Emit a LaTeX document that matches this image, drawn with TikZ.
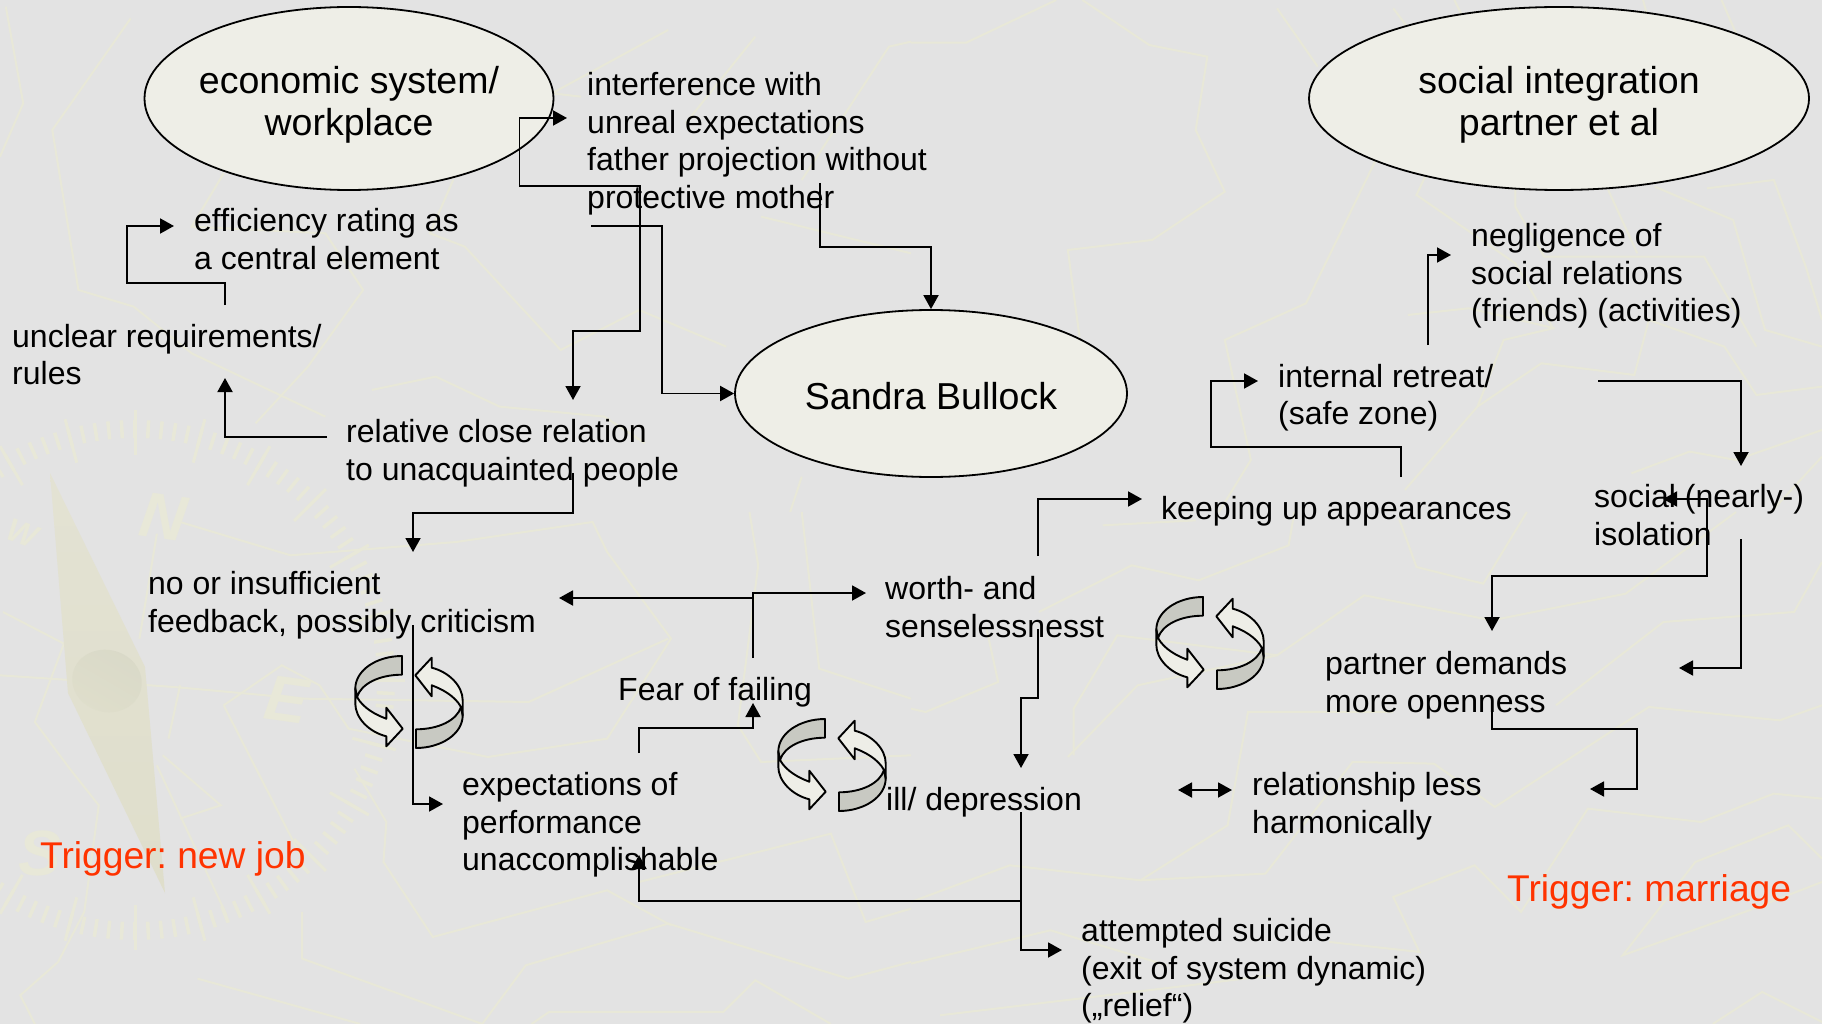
\documentclass[tikz,border=0pt]{standalone}
\usepackage{fontspec}
\setmainfont{Liberation Sans}
\frenchspacing
\usetikzlibrary{shapes.geometric, arrows.meta}
\definecolor{slide}{HTML}{E3E3E3}
\definecolor{faint}{HTML}{E8E8D8}
\definecolor{needletop}{HTML}{E3E2D3}
\definecolor{needlelow}{HTML}{DFDECB}
\definecolor{needleshade}{HTML}{D9D9C8}
\definecolor{oval}{HTML}{EEEEE7}
\definecolor{band}{HTML}{C8C9C2}
\definecolor{trigger}{HTML}{FF3300}
\newcommand{\topgap}[1]{\rule{0pt}{#1pt}}
\tikzstyle{topic} = [ellipse, inner sep=-14pt, draw=black, line width=1.8pt, fill=oval, align=center, font=\fontsize{37.5}{42}\selectfont]
\tikzstyle{textbox} = [anchor=north west, xshift=-1pt, inner sep=0pt, align=left, font=\fontsize{32}{37.6}\selectfont]
\tikzstyle{triggerbox} = [anchor=base west, inner sep=0pt, text=trigger, font=\fontsize{37.2}{42}\selectfont]
\tikzstyle{arrow} = [line width=1.9pt, -{Triangle[length=14pt,width=15pt]}]
\tikzstyle{both} = [line width=1.9pt, {Triangle[length=14pt,width=15pt]}-{Triangle[length=14pt,width=15pt]}]
\tikzstyle{line} = [line width=1.9pt]
\tikzstyle{trace} = [draw=faint, line width=2pt]
\tikzstyle{compassletter} = [text=faint, font=\fontsize{64}{64}\selectfont\bfseries\itshape]
\tikzset{
  topleft/.style={x=0.581pt, y=-0.3333pt},
  topright/.style={shift={(911,0)}, x=0.581pt, y=-0.3333pt},
  lowleft/.style={shift={(0,512)}, x=0.581pt, y=-0.3333pt},
  lowright/.style={shift={(911,512)}, x=0.581pt, y=-0.3333pt},
  pics/cycle/.style={code={
    \draw [line, fill=band, line join=round] (-7,-46) .. controls (-32,-46) and (-53.7,-32) .. (-53.7,-13.3) -- (-52,-5) .. controls (-48,-18) and (-30,-27.3) .. (-7,-27.3) -- cycle;
    \draw [line, fill=oval, line join=round] (-52,-5) .. controls (-46,6) and (-33,13) .. (-22.7,16.7) -- (-22.7,5.7) -- (-6.3,26.7) -- (-22.7,44.3) -- (-22.7,34.3) .. controls (-40,30) and (-53.7,16) .. (-53.7,1.7) -- (-53.7,-13.3) -- cycle;
    \begin{scope}[rotate=180]
      \draw [line, fill=band, line join=round] (-7,-46) .. controls (-32,-46) and (-53.7,-32) .. (-53.7,-13.3) -- (-52,-5) .. controls (-48,-18) and (-30,-27.3) .. (-7,-27.3) -- cycle;
      \draw [line, fill=oval, line join=round] (-52,-5) .. controls (-46,6) and (-33,13) .. (-22.7,16.7) -- (-22.7,5.7) -- (-6.3,26.7) -- (-22.7,44.3) -- (-22.7,34.3) .. controls (-40,30) and (-53.7,16) .. (-53.7,1.7) -- (-53.7,-13.3) -- cycle;
    \end{scope}
  }}
}
\begin{document}
\begin{tikzpicture}[x=1pt, y=-1pt]
	\useasboundingbox (0,0) rectangle (1822,1024);
	\fill [slide] (0,0) rectangle (1822,1024);

	% faint map behind everything
	\begin{scope}[topleft]
		\draw [trace] (10,20) -- (40,310) -- (0,470);
		\draw [trace] (225,55) -- (90,390) -- (135,870) -- (230,920) -- (330,1060) -- (560,1250);
		\draw [trace] (385,520) -- (330,680) -- (560,700) -- (625,870) -- (530,1100) -- (440,1270);
		\draw [trace] (780,540) -- (740,700) -- (800,740) -- (965,1050) -- (1100,930) -- (1250,1040);
		\draw [trace] (1150,90) -- (950,280) -- (1000,290);
		\draw [trace] (1300,110) -- (1180,370);
		\draw [trace] (1310,650) -- (1568,760);
		\draw [trace] (1568,125) -- (1530,140) -- (1380,540);
		\draw [trace] (640,1170) -- (750,1130) -- (860,1220) -- (1040,1250) -- (1110,1330);
		\draw [trace] (1380,1430) -- (1360,1536);
	\end{scope}
	\begin{scope}[topright]
		\draw [trace] (250,0) -- (95,128) -- (0,128);
		\draw [trace] (295,0) -- (410,135) -- (510,170) -- (490,390) -- (540,575) -- (415,720) -- (270,750) -- (290,1010);
		\draw [trace] (630,25) -- (700,200);
		\draw [trace] (800,480) -- (680,910) -- (540,1020) -- (585,1380) -- (530,1536);
		\draw [trace] (830,25) -- (880,140);
		\draw [trace] (885,530) -- (870,585) -- (1040,790) -- (1105,985) -- (1020,1020) -- (975,1220) -- (850,1470);
		\draw [trace] (1040,570) -- (1040,620) -- (1090,770) -- (1365,770) -- (1455,1040);
		\draw [trace] (1200,570) -- (1250,760);
		\draw [trace] (1280,560) -- (1415,660) -- (1470,990) -- (1568,1040);
		\draw [trace] (1370,565) -- (1485,540) -- (1540,800) -- (1568,960);
		\draw [trace] (935,0) -- (970,120);
		\draw [trace] (1260,0) -- (1280,130);
		\draw [trace] (1395,0) -- (1420,100);
		\draw [trace] (855,945) -- (960,925) -- (1108,985);
		\draw [trace] (975,1220) -- (1085,1090) -- (1245,1125) -- (1270,960) -- (1400,1040) -- (1455,1185) -- (1568,1160);
		\draw [trace] (1240,1420) -- (1340,1355) -- (1420,1380) -- (1568,1290);
		\draw [trace] (1480,1536) -- (1568,1370);
	\end{scope}
	\begin{scope}[lowleft]
		\draw [trace] (0,490) -- (300,525) -- (520,560) -- (910,570) -- (1150,380);
		\draw [trace] (385,580) -- (485,460) -- (550,520) -- (600,650) -- (840,735) -- (1045,680) -- (1155,380) -- (1045,120) -- (1020,30) -- (785,90) -- (500,130) -- (310,30);
		\draw [trace] (385,580) -- (520,1040);
		\draw [trace] (5,300) -- (110,395) -- (60,630) -- (120,770) -- (170,880) -- (145,1200) -- (100,1350) -- (35,1450) -- (60,1536);
		\draw [trace] (270,65) -- (240,380);
		\draw [trace] (310,520) -- (290,680);
		\draw [trace] (280,730) -- (380,880) -- (310,920);
		\draw [trace] (270,760) -- (390,1210);
		\draw [trace] (610,770) -- (665,930) -- (660,1050) -- (745,1275) -- (1045,1135) -- (1155,1240);
		\draw [trace] (520,1200) -- (520,1340) -- (830,1536) -- (905,1360) -- (1150,1235) -- (1460,1400) -- (1568,1350);
		\draw [trace] (340,1400) -- (620,1536);
		\draw [trace] (915,1536) -- (945,1500) -- (1245,1500) -- (1300,1405) -- (1430,1536);
		\draw [trace] (1100,1110) -- (1430,965) -- (1490,1230) -- (1568,1190);
		\draw [trace] (1290,0) -- (1305,160) -- (1270,640) -- (1310,750) -- (1568,730);
		\draw [trace] (1380,0) -- (1410,470) -- (1568,560);
	\end{scope}
	\begin{scope}[lowright]
		\draw [trace] (0,1170) -- (170,1060) -- (395,1105) -- (610,1085) -- (760,750) -- (900,755) -- (1005,885) -- (1270,585) -- (1495,625) -- (1568,580);
		\draw [trace] (0,1355) -- (240,1255) -- (440,1360);
		\draw [trace] (50,1510) -- (480,1420) -- (620,1390);
		\draw [trace] (220,300) -- (380,160) -- (495,205) -- (650,100) -- (660,0);
		\draw [trace] (280,730) -- (280,590) -- (355,370) -- (630,430) -- (780,250) -- (1000,325) -- (1230,245) -- (1420,0);
		\draw [trace] (270,735) -- (390,520) -- (630,430);
		\draw [trace] (0,590) -- (25,600) -- (150,510) -- (130,350);
		\draw [trace] (830,600) -- (580,600) -- (545,940) -- (395,1105);
		\draw [trace] (840,20) -- (870,165) -- (985,215) -- (1060,0);
		\draw [trace] (1110,580) -- (1295,330) -- (1520,300) -- (1568,150);
		\draw [trace] (1568,860) -- (1485,845) -- (1360,930) -- (1165,890) -- (1050,1200) -- (970,1060) -- (830,1155) -- (875,1320) -- (720,1290);
		\draw [trace] (1568,1110) -- (1435,1200) -- (1225,1330) -- (1350,1050) -- (1510,940) -- (1568,1040);
		\draw [trace] (1380,1536) -- (1465,1440) -- (1568,1530);
		\draw [trace] (330,40) -- (490,25);
	\end{scope}

	% compass ring and needle
	\foreach \a in {0,3,...,357}
		\draw [faint, line width=3.5pt] (135,680) ++(\a:242) -- ++(\a:18);
	\foreach \a in {0,15,...,345}
		\draw [faint, line width=3pt] (135,680) ++(\a:225) -- ++(\a:45);
	\node (north) [compassletter, rotate=-8] at (163,517) {N};
	\node (east) [compassletter, rotate=-8] at (287,700) {E};
	\node (south) [compassletter] at (40,853) {S};
	\node (west) [compassletter, rotate=-20, scale=0.5] at (22,533) {W};
	\shade [top color=needletop, bottom color=needlelow] (50,473) -- (145,667) -- (165,893) -- (68,693) -- cycle;
	\shade [left color=needleshade, right color=needlelow, shading angle=-30, rotate around={-15:(107,681)}] (107,681) ellipse (35 and 31);

	\node (economic) [topic, minimum width=409pt, minimum height=183pt] at (349,98.5) {\topgap{40}economic system/\\workplace};
	\node (social) [topic, minimum width=500pt, minimum height=183pt] at (1559,98.5) {\topgap{40}social integration\\partner et al};
	\node (sandra) [topic, minimum width=392pt, minimum height=167pt] at (931,393.5) {\topgap{33}Sandra Bullock};

	\node (interference) [textbox] at (588,69) {\strut interference with\\unreal expectations\\father projection without\\protective mother};
	\node (efficiency) [textbox] at (195,205) {\strut efficiency rating as\\a central element};
	\node (unclear) [textbox] at (13,320.5) {\strut unclear requirements/\\rules};
	\node (relative) [textbox] at (347,416) {\strut relative close relation\\to unacquainted people};
	\node (feedback) [textbox] at (149,568) {\strut no or insufficient\\feedback, possibly criticism};
	\node (fear) [textbox] at (619,674) {\strut Fear of failing};
	\node (expectations) [textbox] at (463,769) {\strut expectations of\\performance\\unaccomplishable};
	\node (worth) [textbox] at (886,573) {\strut worth- and\\senselessnesst};
	\node (depression) [textbox] at (887,784) {\strut ill/ depression};
	\node (suicide) [textbox] at (1082,915) {\strut attempted suicide\\(exit of system dynamic)\\(„relief“)};
	\node (keeping) [textbox] at (1162,493) {\strut keeping up appearances};
	\node (retreat) [textbox] at (1279,360.5) {\strut internal retreat/\\(safe zone)};
	\node (negligence) [textbox] at (1472,220) {\strut negligence of\\social relations\\(friends) (activities)};
	\node (isolation) [textbox] at (1595,481) {\strut social (nearly-)\\isolation};
	\node (partner) [textbox] at (1326,648) {\strut partner demands\\more openness};
	\node (harmony) [textbox] at (1253,769) {\strut relationship less\\harmonically};
	\node (newjob) [triggerbox] at (40,868) {Trigger: new job};
	\node (marriage) [triggerbox] at (1507,901) {Trigger: marriage};

	\coordinate (wrapin) at (567,118);
	\coordinate (relin) at (573,400);
	\coordinate (motherout) at (820,183);
	\coordinate (interout) at (591,226);
	\coordinate (unclearout) at (225,305);
	\coordinate (effin) at (174,226);
	\coordinate (relout) at (327,437);
	\coordinate (unclearin) at (225,378);
	\coordinate (relout2) at (573,473);
	\coordinate (feedin) at (413,552);
	\coordinate (feedout) at (413,625);
	\coordinate (expin) at (443,804);
	\coordinate (fearout) at (753,658);
	\coordinate (worthin) at (866,593);
	\coordinate (feedin2) at (559,598);
	\coordinate (expout) at (639,753);
	\coordinate (fearin) at (753,703);
	\coordinate (worthup) at (1038,556);
	\coordinate (keepin) at (1142,499);
	\coordinate (worthout) at (1038,629);
	\coordinate (depin) at (1021,768);
	\coordinate (depout) at (1021,812);
	\coordinate (suicin) at (1062,950);
	\coordinate (expin2) at (639,855);
	\coordinate (keepout) at (1401,477);
	\coordinate (retrin) at (1258,381);
	\coordinate (retrup) at (1428,345);
	\coordinate (negin) at (1451,255);
	\coordinate (retrout) at (1598,381);
	\coordinate (isoin) at (1741,466);
	\coordinate (isoout) at (1741,539);
	\coordinate (partin2) at (1679,668);
	\coordinate (isoin2) at (1663,499);
	\coordinate (partin) at (1492,631);
	\coordinate (partout) at (1492,709);
	\coordinate (harmin) at (1590,789);
	\coordinate (harmleft) at (1178,790);
	\coordinate (harmright) at (1232,790);

	\draw [both] (wrapin) -- (519.5,118) -- (519.5,186) -- (640,186) -- (640,331) -- (573,331) -- (relin);
	\draw [arrow] (interout) -- (662,226) -- (662,393.5) -- (sandra.west);
	\draw [arrow] (motherout) -- (820,247) -- (931,247) -- (sandra.north);
	\draw [arrow] (unclearout) -- (225,283) -- (127,283) -- (127,226) -- (effin);
	\draw [arrow] (relout) -- (225,437) -- (unclearin);
	\draw [arrow] (relout2) -- (573,513) -- (413,513) -- (feedin);
	\draw [arrow] (feedout) -- (413,804) -- (expin);
	\draw [arrow] (fearout) -- (753,593) -- (worthin);
	\draw [arrow] (753,598) -- (feedin2);
	\draw [arrow] (expout) -- (639,728) -- (753,728) -- (fearin);
	\draw [arrow] (worthup) -- (1038,499) -- (keepin);
	\draw [arrow] (worthout) -- (1038,698) -- (1021,698) -- (depin);
	\draw [arrow] (depout) -- (1021,950) -- (suicin);
	\draw [arrow] (1021,901) -- (639,901) -- (expin2);
	\draw [arrow] (keepout) -- (1401,447) -- (1211,447) -- (1211,381) -- (retrin);
	\draw [arrow] (retrup) -- (1428,255) -- (negin);
	\draw [arrow] (retrout) -- (1741,381) -- (isoin);
	\draw [arrow] (isoout) -- (1741,668) -- (partin2);
	\draw [both] (isoin2) -- (1707,499) -- (1707,576) -- (1492,576) -- (partin);
	\draw [arrow] (partout) -- (1492,729) -- (1637,729) -- (1637,789) -- (harmin);
	\draw [both] (harmleft) -- (harmright);

	\pic at (409,702) {cycle};
	\pic at (832,765) {cycle};
	\pic at (1210,643) {cycle};
\end{tikzpicture}
\end{document}
